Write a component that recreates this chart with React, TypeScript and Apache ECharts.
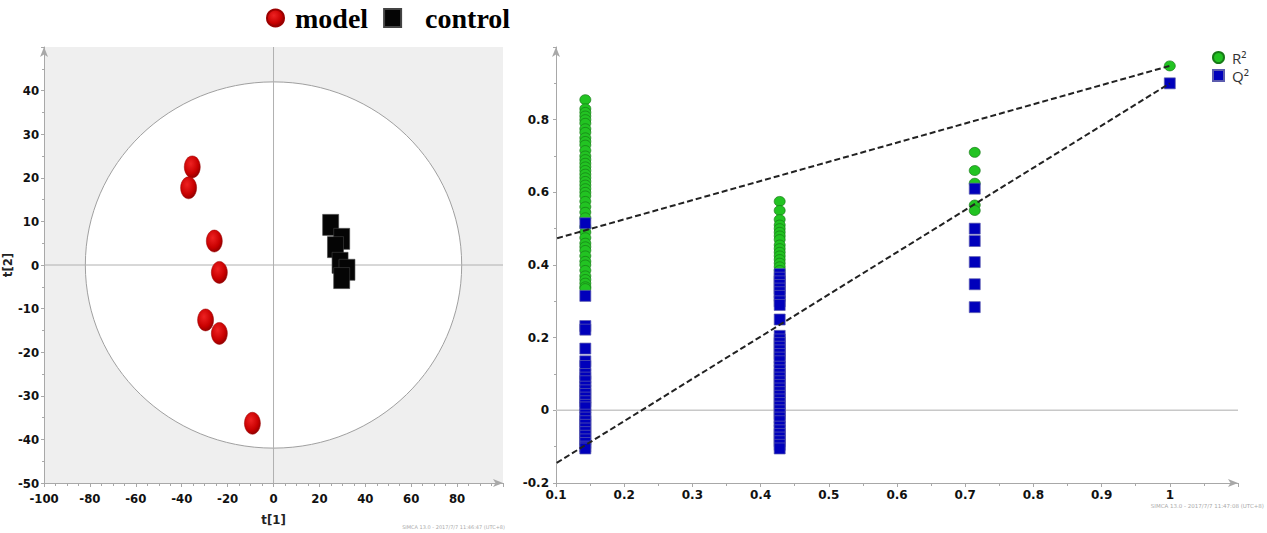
import React, { useEffect, useRef } from "react";
import * as echarts from "echarts";

// ---------- Left: PCA score plot ----------
const modelT1 = [-35.4, -37.0, -25.8, -23.6, -29.6, -23.6, -9.2];
const modelT2 = [22.5, 17.7, 5.5, -1.7, -12.6, -15.7, -36.3];
const controlT1 = [24.9, 29.7, 27.0, 29.0, 32.0, 29.7];
const controlT2 = [9.2, 6.0, 4.1, 0.5, -1.1, -3.0];
const hotellingEllipse = [0, 0, 82, 42]; // centre t1, centre t2, radius t1, radius t2

// ---------- Right: permutation test ----------
const permX = [0.143, 0.428, 0.714, 1.0];
const r2Col1 = [0.855, 0.83, 0.82, 0.81, 0.8, 0.79, 0.775, 0.765, 0.75, 0.74, 0.73, 0.715, 0.7, 0.69, 0.68, 0.67, 0.66, 0.65, 0.64, 0.63, 0.62, 0.61, 0.6, 0.59, 0.575, 0.56, 0.545, 0.53, 0.505, 0.49, 0.475, 0.46, 0.45, 0.44, 0.425, 0.41, 0.4, 0.385, 0.37, 0.36, 0.35, 0.34, 0.335];
const r2Col2 = [0.575, 0.55, 0.525, 0.51, 0.5, 0.49, 0.48, 0.47, 0.455, 0.445, 0.435, 0.425, 0.415, 0.405, 0.395, 0.385];
const r2Col3 = [0.71, 0.66, 0.625, 0.565, 0.55];
const r2Col4 = [0.948];
const q2Col1 = [0.515, 0.315, 0.232, 0.222, 0.17, 0.135, 0.122, 0.1, 0.09, 0.08, 0.065, 0.055, 0.045, 0.035, 0.025, 0.015, 0.008, -0.012, -0.02, -0.03, -0.04, -0.05, -0.06, -0.07, -0.08, -0.09, -0.1, -0.105];
const q2Col2 = [0.375, 0.365, 0.355, 0.345, 0.335, 0.325, 0.315, 0.3, 0.29, 0.25, 0.205, 0.195, 0.185, 0.175, 0.165, 0.155, 0.145, 0.135, 0.12, 0.11, 0.1, 0.09, 0.08, 0.07, 0.06, 0.05, 0.04, 0.03, 0.02, 0.01, 0.0, -0.01, -0.02, -0.03, -0.045, -0.055, -0.065, -0.075, -0.085, -0.095, -0.105];
const q2Col3 = [0.61, 0.5, 0.466, 0.408, 0.347, 0.284];
const q2Col4 = [0.9];
const r2Intercept = 0.42;
const q2Intercept = -0.262;

const r2Groups = [r2Col1, r2Col2, r2Col3, r2Col4];
const q2Groups = [q2Col1, q2Col2, q2Col3, q2Col4];

const narrow = "'Liberation Sans Narrow', 'DejaVu Sans Condensed', Arial, sans-serif";
const dejavu = "'DejaVu Sans', Verdana, sans-serif";
const serifBold = "'Liberation Serif', 'Times New Roman', serif";

export default function App() {
  const ref = useRef<HTMLDivElement>(null);

  useEffect(() => {
    document.body.style.margin = "0";
    if (!ref.current) return;
    const chart = echarts.init(ref.current, undefined, { renderer: "svg" });

    const toPoints = (xs: number[], groups: number[][]) => {
      const out: number[][] = [];
      groups.forEach((g, i) => g.forEach((v) => out.push([xs[i], v])));
      return out;
    };
    const r2Data = toPoints(permX, r2Groups);
    const q2Data = toPoints(permX, q2Groups);
    const r2Last = r2Col4[0];
    const q2Last = q2Col4[0];

    const axisGray = "#a8a8a8";
    const legendText = { fontSize: 28, fontWeight: "bold", fontFamily: serifBold, color: "#000" };

    const option: any = {
      animation: false,
      backgroundColor: "#ffffff",
      legend: [
        {
          data: [
            { name: "model", icon: "circle", textStyle: { ...legendText, padding: [0, 0, 0, 6] } },
            { name: "control", icon: "rect", textStyle: { ...legendText, padding: [0, 0, 0, 19] } },
          ],
          left: 266,
          top: 4,
          padding: 0,
          itemWidth: 17,
          itemHeight: 18,
          itemGap: 15,
          selectedMode: false,
          textStyle: { ...legendText },
        },
        {
          data: [
            { name: "R²", icon: "circle" },
            { name: "Q²", icon: "rect" },
          ],
          orient: "vertical",
          left: 1212,
          top: 50,
          padding: 0,
          itemWidth: 11,
          itemHeight: 11,
          itemGap: 3,
          selectedMode: false,
          textStyle: {
            fontSize: 15,
            lineHeight: 15,
            fontFamily: "'Open Sans', 'DejaVu Sans', sans-serif",
            color: "#333",
            padding: [0, 0, 0, 3],
          },
        },
      ],
      grid: [
        {
          left: 44,
          top: 47,
          width: 459,
          height: 436,
          show: true,
          backgroundColor: "#efefef",
          borderWidth: 0,
        },
        {
          left: 556,
          top: 47,
          width: 682,
          height: 436,
          show: false,
        },
      ],
      xAxis: [
        {
          gridIndex: 0,
          type: "value",
          min: -100,
          max: 100,
          interval: 20,
          name: "t[1]",
          nameLocation: "middle",
          nameGap: 30,
          nameTextStyle: { fontFamily: narrow, fontSize: 13, fontWeight: "bold", color: "#222" },
          axisLine: { onZero: false, symbol: ["none", "arrow"], symbolSize: [6, 10], lineStyle: { color: axisGray } },
          axisTick: { length: 4, lineStyle: { color: axisGray } },
          minorTick: { show: true, splitNumber: 4, length: 3, lineStyle: { color: axisGray } },
          splitLine: { show: false },
          axisLabel: {
            margin: 9,
            fontFamily: narrow,
            fontSize: 13,
            fontWeight: "bold",
            color: "#111",
            formatter: (v: number) => (v === 100 ? "" : String(v)),
          },
        },
        {
          gridIndex: 1,
          type: "value",
          min: 0.1,
          max: 1.1,
          interval: 0.1,
          axisLine: { onZero: false, symbol: ["none", "arrow"], symbolSize: [6, 10], lineStyle: { color: axisGray } },
          axisTick: { length: 4, lineStyle: { color: axisGray } },
          minorTick: { show: true, splitNumber: 2, length: 3, lineStyle: { color: axisGray } },
          splitLine: { show: false },
          axisLabel: {
            margin: 6,
            fontFamily: dejavu,
            fontSize: 12,
            fontWeight: "bold",
            color: "#111",
            formatter: (v: number) => (Math.abs(v - 1.1) < 1e-6 ? "" : String(Math.round(v * 10) / 10)),
          },
        },
      ],
      yAxis: [
        {
          gridIndex: 0,
          type: "value",
          min: -50,
          max: 50,
          interval: 10,
          name: "t[2]",
          nameLocation: "middle",
          nameGap: 22,
          nameTextStyle: { fontFamily: narrow, fontSize: 13, fontWeight: "bold", color: "#222" },
          axisLine: { show: true, onZero: false, symbol: ["none", "arrow"], symbolSize: [6, 10], lineStyle: { color: axisGray } },
          axisTick: { show: true, length: 3, lineStyle: { color: axisGray } },
          minorTick: { show: true, splitNumber: 2, length: 2, lineStyle: { color: axisGray } },
          splitLine: { show: false },
          axisLabel: {
            margin: 5,
            fontFamily: narrow,
            fontSize: 13,
            fontWeight: "bold",
            color: "#111",
            formatter: (v: number) => (v === 50 ? "" : String(v)),
          },
        },
        {
          gridIndex: 1,
          type: "value",
          min: -0.2,
          max: 1.0,
          interval: 0.2,
          axisLine: { show: true, onZero: false, symbol: ["none", "arrow"], symbolSize: [6, 10], lineStyle: { color: axisGray } },
          axisTick: { show: true, length: 3, lineStyle: { color: axisGray } },
          minorTick: { show: true, splitNumber: 2, length: 2, lineStyle: { color: axisGray } },
          splitLine: { show: false },
          axisLabel: {
            margin: 7,
            fontFamily: dejavu,
            fontSize: 12,
            fontWeight: "bold",
            color: "#111",
            formatter: (v: number) => (Math.abs(v - 1) < 1e-6 ? "" : String(Math.round(v * 10) / 10)),
          },
        },
      ],
      series: [
        {
          name: "ellipse",
          type: "custom",
          xAxisIndex: 0,
          yAxisIndex: 0,
          z: 1,
          silent: true,
          data: [hotellingEllipse],
          renderItem: (params: any, api: any) => {
            const c = api.coord([api.value(0), api.value(1)]);
            const s = api.size([api.value(2), api.value(3)]);
            return {
              type: "ellipse",
              shape: { cx: c[0], cy: c[1], rx: s[0], ry: s[1] },
              style: { fill: "#ffffff", stroke: "#a0a0a0", lineWidth: 1 },
            };
          },
        },
        {
          name: "zeroV",
          type: "line",
          xAxisIndex: 0,
          yAxisIndex: 0,
          z: 2,
          silent: true,
          symbol: "none",
          data: [[0, -50], [0, 50]],
          lineStyle: { color: "#b0b0b0", width: 1 },
        },
        {
          name: "zeroH",
          type: "line",
          xAxisIndex: 0,
          yAxisIndex: 0,
          z: 2,
          silent: true,
          symbol: "none",
          data: [[-100, 0], [100, 0]],
          lineStyle: { color: "#b0b0b0", width: 1 },
        },
        {
          name: "model",
          type: "scatter",
          xAxisIndex: 0,
          yAxisIndex: 0,
          z: 3,
          symbol: "circle",
          symbolSize: [16, 22],
          data: modelT1.map((x, i) => [x, modelT2[i]]),
          itemStyle: {
            opacity: 1,
            color: new echarts.graphic.RadialGradient(0.4, 0.35, 0.7, [
              { offset: 0, color: "#ee2222" },
              { offset: 0.65, color: "#c80000" },
              { offset: 1, color: "#8a0000" },
            ]),
            borderColor: "#9a0000",
            borderWidth: 0.5,
          },
        },
        {
          name: "control",
          type: "scatter",
          xAxisIndex: 0,
          yAxisIndex: 0,
          z: 3,
          symbol: "rect",
          symbolSize: [16, 21],
          data: controlT1.map((x, i) => [x, controlT2[i]]),
          itemStyle: { opacity: 1, color: "#050505", borderColor: "#444", borderWidth: 0.6 },
        },
        {
          name: "zeroR",
          type: "line",
          xAxisIndex: 1,
          yAxisIndex: 1,
          z: 1,
          silent: true,
          symbol: "none",
          data: [[0.1, 0], [1.1, 0]],
          lineStyle: { color: "#c8c8c8", width: 1.5 },
        },
        {
          name: "R²",
          type: "scatter",
          xAxisIndex: 1,
          yAxisIndex: 1,
          z: 3,
          symbol: "circle",
          symbolSize: [11, 10],
          data: r2Data,
          itemStyle: { opacity: 1, color: "#22c322", borderColor: "#177a17", borderWidth: 0.7 },
        },
        {
          name: "Q²",
          type: "scatter",
          xAxisIndex: 1,
          yAxisIndex: 1,
          z: 4,
          symbol: "rect",
          symbolSize: [11, 11],
          data: q2Data,
          itemStyle: { opacity: 1, color: "#0000bb", borderColor: "#5c5cae", borderWidth: 0.7 },
        },
        {
          name: "r2Fit",
          type: "line",
          xAxisIndex: 1,
          yAxisIndex: 1,
          z: 5,
          silent: true,
          symbol: "none",
          clip: true,
          data: [[0, r2Intercept], [1, r2Last]],
          lineStyle: { color: "#222", width: 2, type: [6, 3] },
        },
        {
          name: "q2Fit",
          type: "line",
          xAxisIndex: 1,
          yAxisIndex: 1,
          z: 5,
          silent: true,
          symbol: "none",
          clip: true,
          data: [[0, q2Intercept], [1, q2Last]],
          lineStyle: { color: "#222", width: 2, type: [6, 3] },
        },
      ],
      graphic: [
        {
          type: "text",
          right: 1267 - 505,
          top: 524,
          style: { text: "SIMCA 13.0 - 2017/7/7 11:46:47 (UTC+8)", fontSize: 5, fill: "#aaa", fontFamily: dejavu },
        },
        {
          type: "text",
          right: 3,
          top: 503,
          style: { text: "SIMCA 13.0 - 2017/7/7 11:47:08 (UTC+8)", fontSize: 5.5, fill: "#aaa", fontFamily: dejavu },
        },
      ],
    };

    chart.setOption(option);
    return () => chart.dispose();
  }, []);

  return <div ref={ref} style={{ width: 1267, height: 533 }} />;
}
